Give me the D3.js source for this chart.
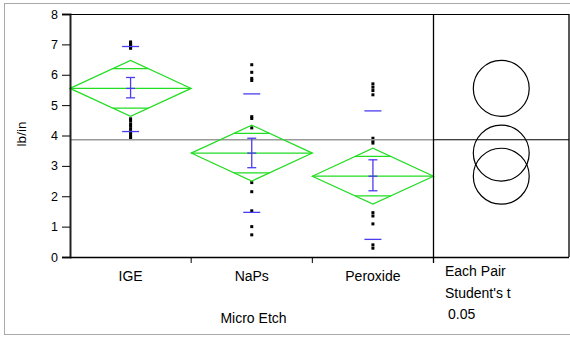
<!DOCTYPE html>
<html>
<head>
<meta charset="utf-8">
<script src="https://cdn.jsdelivr.net/npm/d3@7"></script>
<style>
	body { margin: 0; background: #fff; }
	text { font-family: "Liberation Sans", Arial, sans-serif; fill: #000; }
</style>
</head>
<body>
<svg width="570" height="337"></svg>
<script>
var groups = ["IGE", "NaPs", "Peroxide"];
var means = [5.55, 3.42, 2.66];
var ciHalf = [0.92, 0.92, 0.92];
var errLow = [5.24, 2.94, 2.18];
var errHigh = [5.91, 3.91, 3.20];
var q10 = [4.13, 1.47, 0.58];
var q90 = [6.93, 5.37, 4.81];
var grandMean = 3.86;
var yTicks = [0, 1, 2, 3, 4, 5, 6, 7, 8];

var pointsIGE = [7.08, 7.03, 6.98, 6.94, 6.90, 6.87, 4.55, 4.48, 4.38, 4.30, 4.20, 4.10, 4.02, 3.95, 3.90];
var pointsNaPs = [6.33, 6.08, 5.88, 5.81, 4.62, 4.56, 4.25, 2.45, 2.15, 1.52, 1.00, 0.73];
var pointsPeroxide = [5.70, 5.59, 5.48, 5.34, 3.91, 3.83, 3.75, 1.46, 1.35, 1.09, 0.40, 0.29];
var points = [pointsIGE, pointsNaPs, pointsPeroxide];

var svg = d3.select("svg");
var green = "#22dd22", blue = "#4a3cf0";

var plotLeft = 70, plotRight = 433.5, plotTop = 14, plotBottom = 257, panelRight = 569;

var x = d3.scaleBand().domain(groups).range([plotLeft, plotRight]).padding(0);
var y = d3.scaleLinear().domain([0, 8]).range([plotBottom, plotTop]);

// outer frame
svg.append("rect").attr("x", 4.5).attr("y", 3.5).attr("width", 580).attr("height", 331)
	.attr("fill", "none").attr("stroke", "#aaa");

// points
var data = [];
groups.forEach(function(g, i) {
	points[i].forEach(function(v) { data.push({g: g, v: v}); });
});
svg.append("g").selectAll("rect").data(data).enter().append("rect")
	.attr("x", function(d) { return x(d.g) + x.bandwidth() / 2 - 1.5; })
	.attr("y", function(d) { return y(d.v) - 1.5; })
	.attr("width", 3).attr("height", 3)
	.attr("fill", "#000");

// grand mean
svg.append("line").attr("x1", plotLeft).attr("x2", plotRight)
	.attr("y1", y(grandMean)).attr("y2", y(grandMean))
	.attr("stroke", "#999").attr("stroke-width", 1.5);

// means diamonds
var dg = svg.append("g").attr("fill", "none").attr("stroke", green).attr("stroke-width", 1.2);
groups.forEach(function(g, i) {
	var x0 = x(g), x1 = x(g) + x.bandwidth(), xm = (x0 + x1) / 2;
	var ym = y(means[i]);
	dg.append("path").attr("d", "M" + x0 + "," + ym + "L" + xm + "," + y(means[i] + ciHalf[i]) +
		"L" + x1 + "," + ym + "L" + xm + "," + y(means[i] - ciHalf[i]) + "Z");
	dg.append("line").attr("x1", x0).attr("x2", x1).attr("y1", ym).attr("y2", ym);
	var k = 1 / Math.SQRT2;
	var hw = (1 - k) * x.bandwidth() / 2;
	[1, -1].forEach(function(s) {
		var yy = y(means[i] + s * ciHalf[i] * k);
		dg.append("line").attr("x1", xm - hw).attr("x2", xm + hw).attr("y1", yy).attr("y2", yy);
	});
});

// quantiles and error bars
var bg = svg.append("g").attr("stroke", blue).attr("stroke-width", 1.3);
groups.forEach(function(g, i) {
	var xm = x(g) + x.bandwidth() / 2;
	[q10[i], q90[i]].forEach(function(v) {
		bg.append("line").attr("x1", xm - 8.5).attr("x2", xm + 8.5).attr("y1", y(v)).attr("y2", y(v));
	});
	bg.append("line").attr("x1", xm).attr("x2", xm).attr("y1", y(errLow[i])).attr("y2", y(errHigh[i]));
	[errLow[i], errHigh[i], means[i]].forEach(function(v) {
		bg.append("line").attr("x1", xm - 4.5).attr("x2", xm + 4.5).attr("y1", y(v)).attr("y2", y(v));
	});
});

// axes
var yAxis = svg.append("g").attr("transform", "translate(" + plotLeft + ",0)")
	.call(d3.axisLeft(y).tickValues(yTicks).tickSize(8).tickPadding(4));
yAxis.select(".domain").attr("stroke", "#222").attr("stroke-width", 2);
yAxis.selectAll("text").style("font-size", "12.5px").style("font-family", "Liberation Sans, Arial");

svg.append("line").attr("x1", plotLeft).attr("x2", panelRight).attr("y1", plotTop + 0.5).attr("y2", plotTop + 0.5)
	.attr("stroke", "#000");
svg.append("line").attr("x1", plotLeft).attr("x2", panelRight).attr("y1", plotBottom + 0.5).attr("y2", plotBottom + 0.5)
	.attr("stroke", "#000").attr("stroke-width", 1.3);

var xAxis = svg.append("g").attr("transform", "translate(0," + plotBottom + ")");
xAxis.selectAll("line").data(groups.slice(1)).enter().append("line")
	.attr("x1", function(d) { return x(d); }).attr("x2", function(d) { return x(d); })
	.attr("y1", 0).attr("y2", 6).attr("stroke", "#000");
xAxis.selectAll("text").data(groups).enter().append("text")
	.attr("x", function(d) { return x(d) + x.bandwidth() / 2; })
	.attr("y", 24).attr("text-anchor", "middle").style("font-size", "14px")
	.text(function(d) { return d; });

// comparison circles panel
svg.append("line").attr("x1", plotRight).attr("x2", plotRight).attr("y1", plotTop).attr("y2", plotBottom + 6)
	.attr("stroke", "#000").attr("stroke-width", 1.3);
svg.append("line").attr("x1", panelRight).attr("x2", panelRight).attr("y1", plotTop).attr("y2", plotBottom)
	.attr("stroke", "#000").attr("stroke-width", 1.3);
svg.append("line").attr("x1", plotRight).attr("x2", panelRight)
	.attr("y1", y(grandMean)).attr("y2", y(grandMean)).attr("stroke", "#000").attr("stroke-width", 1.2);
var cx = (plotRight + panelRight) / 2;
svg.append("g").selectAll("circle").data(groups).enter().append("circle")
	.attr("cx", cx)
	.attr("cy", function(d, i) { return y(means[i]); })
	.attr("r", function(d, i) { return y(0) - y(ciHalf[i]); })
	.attr("fill", "none").attr("stroke", "#000").attr("stroke-width", 1.2);

// labels
svg.append("text").attr("transform", "translate(26,134) rotate(-90)")
	.attr("text-anchor", "middle").style("font-size", "13.5px").text("lb/in");
svg.append("text").attr("x", 253.5).attr("y", 323).attr("text-anchor", "middle")
	.style("font-size", "14px").text("Micro Etch");
svg.append("text").attr("x", 445).attr("y", 276).style("font-size", "14px").text("Each Pair");
svg.append("text").attr("x", 445).attr("y", 298).style("font-size", "14px").text("Student's t");
svg.append("text").attr("x", 448).attr("y", 319).style("font-size", "14px").text("0.05");
</script>
</body>
</html>
